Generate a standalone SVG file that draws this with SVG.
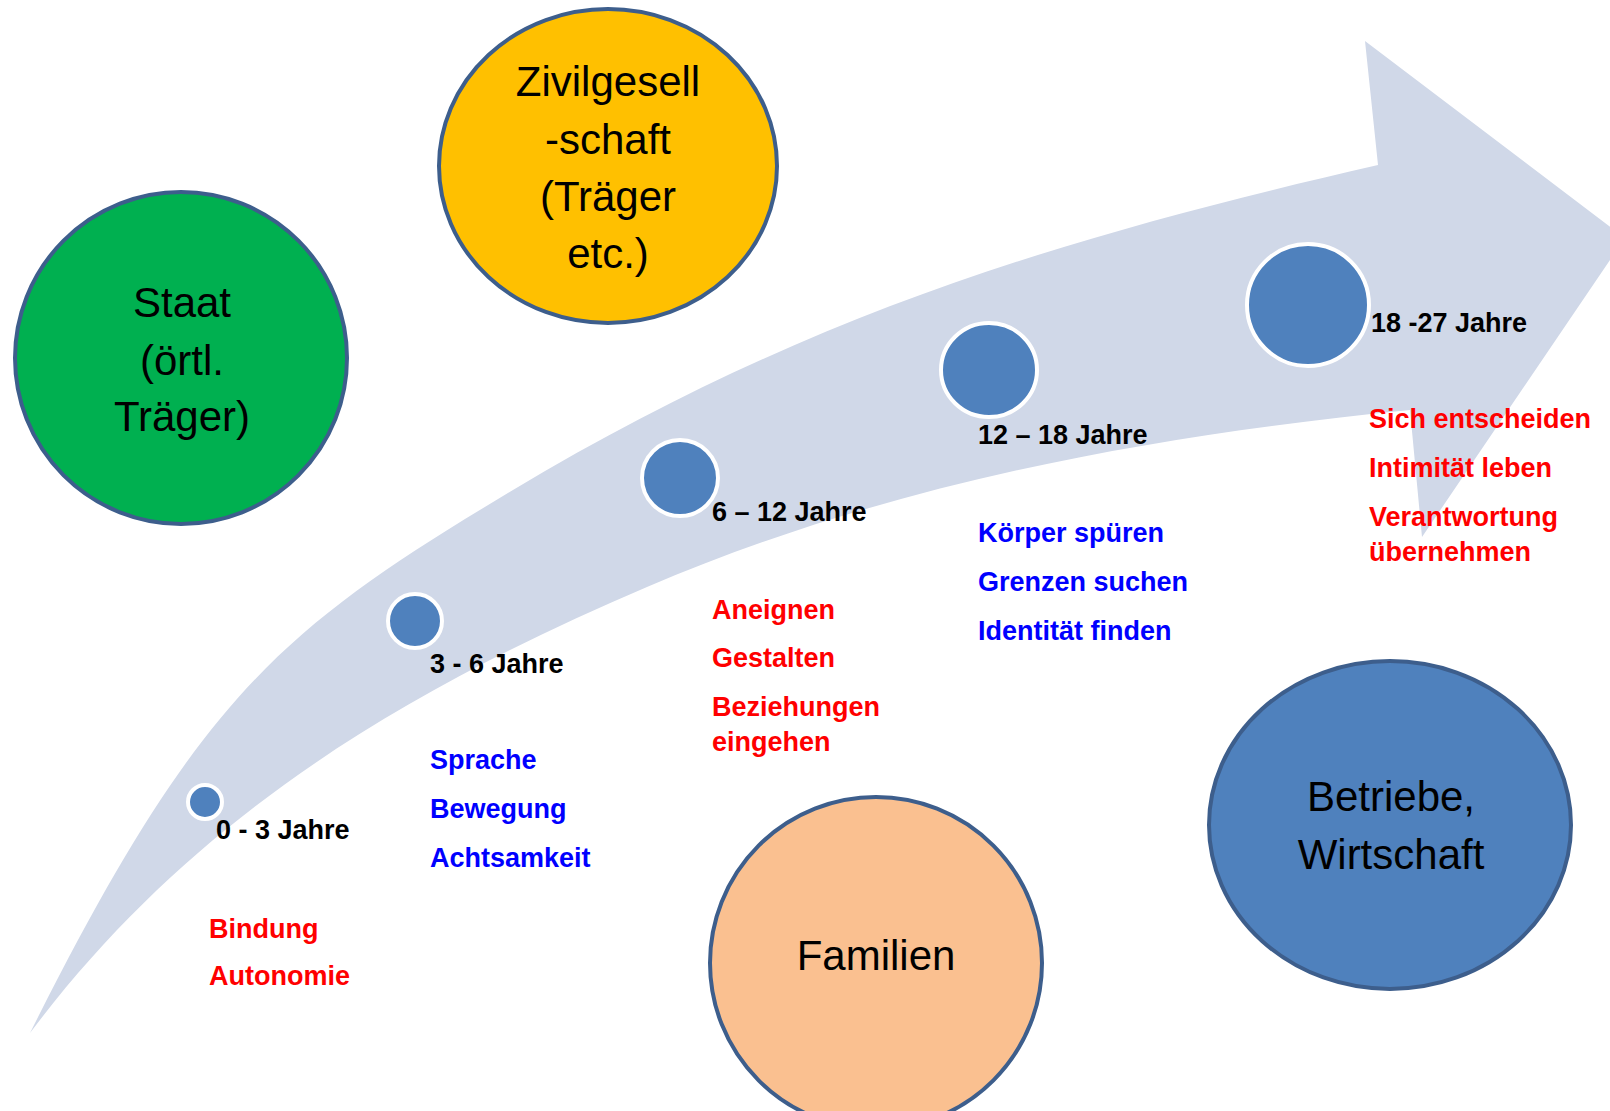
<svg xmlns="http://www.w3.org/2000/svg" width="1610" height="1111" viewBox="0 0 1610 1111">
  <defs>
    <style>
      .band { fill: #D0D8E8; }
      .big { stroke: #3D5E8C; stroke-width: 4; }
      .bigtxt { font-family: "Liberation Sans", Arial, sans-serif; font-size: 42px; fill: #000000; text-anchor: middle; }
      .dot { fill: #4F81BD; stroke: #FFFFFF; stroke-width: 4; }
      .age { font-family: "Liberation Sans", Arial, sans-serif; font-size: 27px; font-weight: bold; fill: #000000; }
      .red { font-family: "Liberation Sans", Arial, sans-serif; font-size: 27px; font-weight: bold; fill: #FF0000; }
      .blue { font-family: "Liberation Sans", Arial, sans-serif; font-size: 27px; font-weight: bold; fill: #0000FF; }
    </style>
  </defs>
  <rect x="0" y="0" width="1610" height="1111" fill="#FFFFFF"/>

  <g id="connectors">
    <path id="timeline-arrow" class="band" d="M30,1033 C200,693 283,628 513,490 C813,310 1078,234 1378,165 L1365,41 L1625,238 L1422,537 L1410,410 C1160,435 897,480 647,587 C397,694 190,820 30,1033 Z"/>
  </g>

  <g id="node-staat">
    <ellipse class="big" cx="181" cy="358" rx="166" ry="166" fill="#00B050"/>
    <text class="bigtxt" x="182" y="317">Staat</text>
    <text class="bigtxt" x="182" y="375">(örtl.</text>
    <text class="bigtxt" x="182" y="431">Träger)</text>
  </g>

  <g id="node-zivilgesellschaft">
    <ellipse class="big" cx="608" cy="166" rx="169" ry="157" fill="#FFC000"/>
    <text class="bigtxt" x="608" y="96">Zivilgesell</text>
    <text class="bigtxt" x="608" y="154">-schaft</text>
    <text class="bigtxt" x="608" y="211">(Träger</text>
    <text class="bigtxt" x="608" y="268">etc.)</text>
  </g>

  <g id="node-familien">
    <ellipse class="big" cx="876" cy="963" rx="166" ry="166" fill="#FAC090"/>
    <text class="bigtxt" x="876" y="970">Familien</text>
  </g>

  <g id="node-betriebe">
    <ellipse class="big" cx="1390" cy="825" rx="181" ry="164" fill="#4F81BD"/>
    <text class="bigtxt" x="1391" y="811">Betriebe,</text>
    <text class="bigtxt" x="1391" y="869">Wirtschaft</text>
  </g>

  <g id="stage-0-3">
    <circle class="dot" cx="205" cy="802" r="17"/>
    <text class="age" x="216" y="839">0 - 3 Jahre</text>
    <text class="red" x="209" y="938">Bindung</text>
    <text class="red" x="209" y="985">Autonomie</text>
  </g>

  <g id="stage-3-6">
    <circle class="dot" cx="415" cy="621" r="27"/>
    <text class="age" x="430" y="673">3 - 6 Jahre</text>
    <text class="blue" x="430" y="769">Sprache</text>
    <text class="blue" x="430" y="818">Bewegung</text>
    <text class="blue" x="430" y="867">Achtsamkeit</text>
  </g>

  <g id="stage-6-12">
    <circle class="dot" cx="680" cy="478" r="38"/>
    <text class="age" x="712" y="521">6 – 12 Jahre</text>
    <text class="red" x="712" y="619">Aneignen</text>
    <text class="red" x="712" y="667">Gestalten</text>
    <text class="red" x="712" y="716">Beziehungen</text>
    <text class="red" x="712" y="751">eingehen</text>
  </g>

  <g id="stage-12-18">
    <ellipse class="dot" cx="989" cy="370" rx="48" ry="47"/>
    <text class="age" x="978" y="444">12 – 18 Jahre</text>
    <text class="blue" x="978" y="542">Körper spüren</text>
    <text class="blue" x="978" y="591">Grenzen suchen</text>
    <text class="blue" x="978" y="640">Identität finden</text>
  </g>

  <g id="stage-18-27">
    <circle class="dot" cx="1308" cy="305" r="61"/>
    <text class="age" x="1371" y="332">18 -27 Jahre</text>
    <text class="red" x="1369" y="428">Sich entscheiden</text>
    <text class="red" x="1369" y="477">Intimität leben</text>
    <text class="red" x="1369" y="526">Verantwortung</text>
    <text class="red" x="1369" y="561">übernehmen</text>
  </g>
</svg>
